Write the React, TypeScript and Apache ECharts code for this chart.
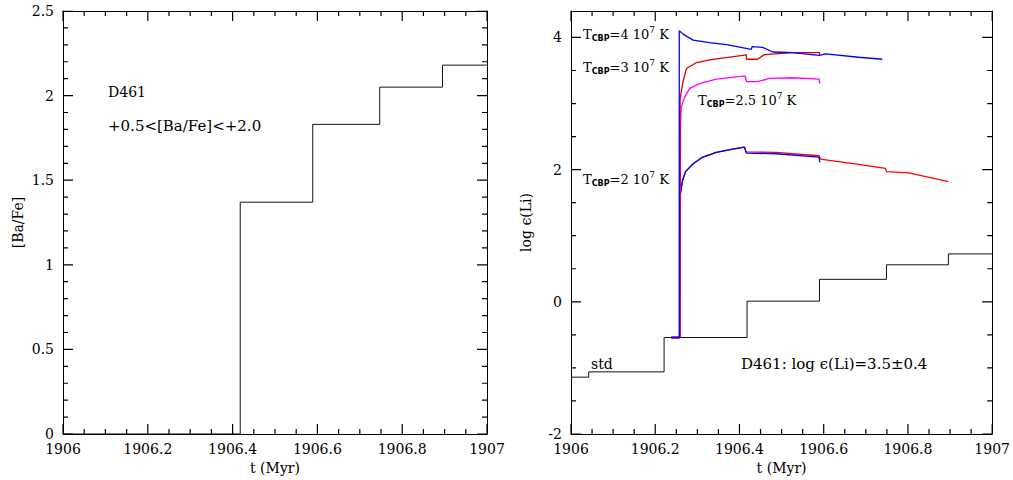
import React, { useEffect, useRef } from "react";
import * as echarts from "echarts";

// ---------- Data ----------
// Left panel: [Ba/Fe] step function (value holds from t[i] until t[i+1])
const baT = [1906, 1906.418, 1906.589, 1906.747, 1906.895, 1907];
const baV = [0, 1.37, 1.83, 2.05, 2.18, 2.18];

// Right panel: standard Li step function
const stdT = [1906, 1906.042, 1906.221, 1906.418, 1906.59, 1906.749, 1906.896, 1907];
const stdV = [-1.14, -1.06, -0.54, 0.01, 0.34, 0.56, 0.725, 0.725];

// T_CBP = 4e7 K (blue)
const t4 = [1906.238, 1906.257, 1906.257, 1906.266, 1906.29, 1906.329, 1906.369, 1906.428, 1906.43, 1906.455, 1906.479, 1906.526, 1906.589, 1906.605, 1906.683, 1906.739];
const v4 = [-0.54, -0.54, 4.1, 4.05, 3.96, 3.92, 3.89, 3.82, 3.86, 3.85, 3.78, 3.77, 3.73, 3.75, 3.7, 3.67];

// T_CBP = 3e7 K (red)
const t3 = [1906.238, 1906.259, 1906.259, 1906.261, 1906.266, 1906.274, 1906.298, 1906.329, 1906.408, 1906.416, 1906.417, 1906.443, 1906.459, 1906.526, 1906.59, 1906.5905];
const v3 = [-0.54, -0.54, 3.06, 3.15, 3.33, 3.53, 3.62, 3.66, 3.73, 3.74, 3.67, 3.67, 3.74, 3.77, 3.77, 3.72];

// T_CBP = 2.5e7 K (magenta)
const t25 = [1906.238, 1906.259, 1906.26, 1906.262, 1906.27, 1906.282, 1906.305, 1906.345, 1906.413, 1906.417, 1906.443, 1906.471, 1906.526, 1906.589, 1906.591];
const v25 = [-0.54, -0.54, 2.66, 2.95, 3.1, 3.23, 3.3, 3.37, 3.42, 3.33, 3.33, 3.38, 3.39, 3.37, 3.3];

// T_CBP = 2e7 K (red, long run)
const t2r = [1906.238, 1906.258, 1906.258, 1906.265, 1906.272, 1906.29, 1906.313, 1906.345, 1906.384, 1906.412, 1906.416, 1906.487, 1906.589, 1906.593, 1906.613, 1906.683, 1906.7465, 1906.749, 1906.802, 1906.896];
const v2r = [-0.54, -0.54, 1.57, 1.84, 1.97, 2.09, 2.19, 2.26, 2.31, 2.34, 2.27, 2.26, 2.21, 2.16, 2.14, 2.08, 2.02, 1.97, 1.95, 1.82];

// T_CBP = 2e7 K (blue, short run)
const t2b = [1906.238, 1906.258, 1906.258, 1906.265, 1906.272, 1906.29, 1906.313, 1906.345, 1906.384, 1906.412, 1906.416, 1906.487, 1906.589, 1906.5906];
const v2b = [-0.54, -0.54, 1.57, 1.84, 1.97, 2.09, 2.19, 2.26, 2.31, 2.34, 2.25, 2.24, 2.19, 2.11];

// ---------- Ticks ----------
const xTickLabels = ["1906", "1906.2", "1906.4", "1906.6", "1906.8", "1907"];
const xMajorTicks = [1906, 1906.2, 1906.4, 1906.6, 1906.8, 1907];
const xMinorTicks = [
  1906.05, 1906.1, 1906.15, 1906.25, 1906.3, 1906.35, 1906.45, 1906.5, 1906.55,
  1906.65, 1906.7, 1906.75, 1906.85, 1906.9, 1906.95,
];
const baMajorTicks = [0, 0.5, 1, 1.5, 2, 2.5];
const baMinorTicks = [
  0.1, 0.2, 0.3, 0.4, 0.6, 0.7, 0.8, 0.9, 1.1, 1.2, 1.3, 1.4, 1.6, 1.7, 1.8, 1.9, 2.1, 2.2, 2.3, 2.4,
];
const liMajorTicks = [-2, 0, 2, 4];
const liMinorTicks = [-1.5, -1, -0.5, 0.5, 1, 1.5, 2.5, 3, 3.5];

const FONT = "DejaVu Serif";

const zip = (a: number[], b: number[]) => a.map((x, i) => [x, b[i]]);

// grid geometry (layout only)
const G0 = { left: 63, top: 11, width: 424, height: 423 };
const G1 = { left: 571, top: 11, width: 423, height: 423 };

export default function App() {
  const ref = useRef<HTMLDivElement>(null);

  useEffect(() => {
    if (!ref.current) return;
    const chart = echarts.init(ref.current, null, { renderer: "svg" });

    const black = "#000";
    const tickColor = "#000";
    const lbl = { color: black, fontFamily: FONT, fontSize: 14 };
    const noSplit = { splitLine: { show: false }, minorSplitLine: { show: false } };
    const line = { show: true, onZero: false, lineStyle: { color: black, width: 1 } };

    const xAxes = (grid: number) => [
      {
        gridIndex: grid,
        type: "value",
        min: 1906,
        max: 1907,
        interval: 0.2,
        position: "bottom",
        ...noSplit,
        axisLine: line,
        axisTick: { show: false },
        axisLabel: {
          ...lbl,
          margin: 8,
          formatter: (v: number) => xTickLabels[Math.round((v - 1906) / 0.2)] ?? "",
        },
        name: "t (Myr)",
        nameLocation: "middle",
        nameGap: 26,
        nameTextStyle: { ...lbl },
      },
      {
        gridIndex: grid,
        type: "value",
        min: 1906,
        max: 1907,
        interval: 0.2,
        position: "top",
        ...noSplit,
        axisLine: line,
        axisTick: { show: false },
        axisLabel: { show: false },
      },
    ];

    // inward tick marks: a line series per tick (two points each), through the axes' scales
    const tickLines = (
      xi: number,
      yi: number,
      dir: "x" | "y",
      values: number[],
      lo: number,
      hi: number,
      frac: number
    ) => {
      const out: any[] = [];
      const span = hi - lo;
      values.forEach((v) => {
        const segs =
          dir === "x"
            ? [
                [[v, lo], [v, lo + span * frac]],
                [[v, hi], [v, hi - span * frac]],
              ]
            : [
                [[lo, v], [lo + span * frac, v]],
                [[hi, v], [hi - span * frac, v]],
              ];
        segs.forEach((d) =>
          out.push({
            type: "line",
            xAxisIndex: xi,
            yAxisIndex: yi,
            data: d,
            showSymbol: false,
            silent: true,
            lineStyle: { color: tickColor, width: 1.2 },
          })
        );
      });
      return out;
    };

    const option: any = {
      animation: false,
      backgroundColor: "#fff",
      grid: [G0, G1],
      xAxis: [...xAxes(0), ...xAxes(1)],
      yAxis: [
        {
          gridIndex: 0,
          type: "value",
          min: 0,
          max: 2.5,
          interval: 0.5,
          position: "left",
          ...noSplit,
          axisLine: line,
          axisTick: { show: false },
          axisLabel: { ...lbl, margin: 9, formatter: (v: number) => String(+v.toFixed(1)) },
          name: "[Ba/Fe]",
          nameLocation: "middle",
          nameGap: 38,
          nameTextStyle: { ...lbl },
        },
        {
          gridIndex: 0,
          type: "value",
          min: 0,
          max: 2.5,
          interval: 0.5,
          position: "right",
          ...noSplit,
          axisLine: line,
          axisTick: { show: false },
          axisLabel: { show: false },
        },
        {
          gridIndex: 1,
          type: "value",
          min: -2,
          max: 4.4,
          interval: 2,
          position: "left",
          ...noSplit,
          axisLine: line,
          axisTick: { show: false },
          axisLabel: {
            ...lbl,
            margin: 9,
            formatter: (v: number) => (Math.abs(v / 2 - Math.round(v / 2)) < 1e-6 ? String(Math.round(v)) : ""),
          },
          name: "log ϵ(Li)",
          nameLocation: "middle",
          nameGap: 38,
          nameTextStyle: { ...lbl },
        },
        {
          gridIndex: 1,
          type: "value",
          min: -2,
          max: 4.4,
          interval: 2,
          position: "right",
          ...noSplit,
          axisLine: line,
          axisTick: { show: false },
          axisLabel: { show: false },
        },
      ],
      series: [
        ...tickLines(0, 0, "x", xMajorTicks, 0, 2.5, 10 / 423),
        ...tickLines(0, 0, "x", xMinorTicks, 0, 2.5, 5 / 423),
        ...tickLines(0, 0, "y", baMajorTicks, 1906, 1907, 10 / 424),
        ...tickLines(0, 0, "y", baMinorTicks, 1906, 1907, 5 / 424),
        ...tickLines(2, 2, "x", xMajorTicks, -2, 4.4, 10 / 423),
        ...tickLines(2, 2, "x", xMinorTicks, -2, 4.4, 5 / 423),
        ...tickLines(2, 2, "y", liMajorTicks, 1906, 1907, 10 / 423),
        ...tickLines(2, 2, "y", liMinorTicks, 1906, 1907, 5 / 423),
        {
          type: "line",
          xAxisIndex: 0,
          yAxisIndex: 0,
          step: "end",
          data: zip(baT, baV),
          showSymbol: false,
          lineStyle: { color: "#111", width: 1 },
        },
        {
          type: "line",
          xAxisIndex: 2,
          yAxisIndex: 2,
          step: "end",
          data: zip(stdT, stdV),
          showSymbol: false,
          lineStyle: { color: "#111", width: 1 },
        },
        {
          type: "line",
          xAxisIndex: 2,
          yAxisIndex: 2,
          data: zip(t2r, v2r),
          showSymbol: false,
          lineStyle: { color: "#ff0000", width: 1.3 },
        },
        {
          type: "line",
          xAxisIndex: 2,
          yAxisIndex: 2,
          data: zip(t2b, v2b),
          showSymbol: false,
          lineStyle: { color: "#0000ff", width: 1.3 },
        },
        {
          type: "line",
          xAxisIndex: 2,
          yAxisIndex: 2,
          data: zip(t25, v25),
          showSymbol: false,
          lineStyle: { color: "#ff00ff", width: 1.3 },
        },
        {
          type: "line",
          xAxisIndex: 2,
          yAxisIndex: 2,
          data: zip(t3, v3),
          showSymbol: false,
          lineStyle: { color: "#dd0000", width: 1.3 },
        },
        {
          type: "line",
          xAxisIndex: 2,
          yAxisIndex: 2,
          data: zip(t4, v4),
          showSymbol: false,
          lineStyle: { color: "#0000ff", width: 1.3 },
        },
      ],
      graphic: [],
    };

    const rich = {
      m: { fontFamily: FONT, fontSize: 13, color: black },
      sub: { fontFamily: "DejaVu Sans", fontSize: 8, fontWeight: "bold", color: black, padding: [8, 0, 0, 0] },
      sup: { fontFamily: FONT, fontSize: 9, color: black, padding: [0, 0, 8, 0] },
    };
    const tLabel = (x: number, y: number, val: string) => ({
      type: "text",
      x,
      y,
      style: {
        text: `{m|T}{sub|CBP}{m|=${val} 10}{sup|7}{m| K}`,
        rich,
        verticalAlign: "middle",
        align: "left",
      },
    });
    const plain = (x: number, y: number, text: string, extra: any = {}) => ({
      type: "text",
      x,
      y,
      style: { text, fontFamily: FONT, fontSize: 15, fill: black, verticalAlign: "middle", align: "left", ...extra },
    });

    option.graphic = [
      plain(108, 92, "D461", { fontSize: 14 }),
      plain(108, 126, "+0.5<[Ba/Fe]<+2.0"),
      tLabel(583, 34, "4"),
      tLabel(583, 67, "3"),
      tLabel(698, 100, "2.5"),
      tLabel(583, 179, "2"),
      plain(591, 364, "std", { fontSize: 14 }),
      plain(741, 364, "D461: log ϵ(Li)=3.5±0.4"),
    ];

    chart.setOption(option);
    return () => chart.dispose();
  }, []);

  return (
    <div
      ref={ref}
      style={{ position: "absolute", left: 0, top: 0, width: 1013, height: 480, background: "#fff" }}
    />
  );
}
